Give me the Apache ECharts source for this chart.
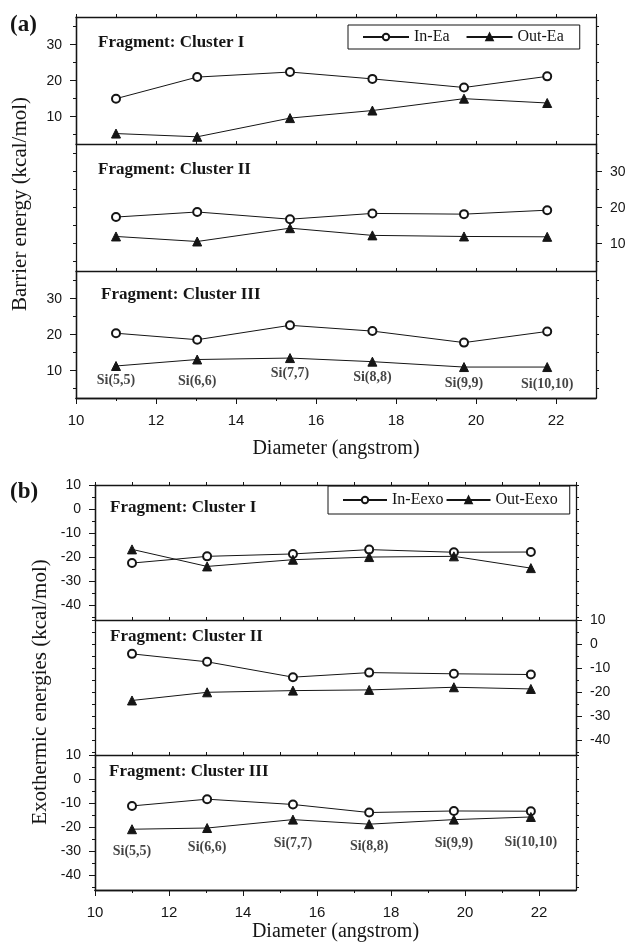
<!DOCTYPE html>
<html>
<head>
<meta charset="utf-8">
<script src="https://cdn.jsdelivr.net/npm/echarts@6/dist/echarts.min.js"></script>
<style>
  html, body { margin: 0; background: #fff; }
  #chart { width: 629px; height: 950px; }
</style>
</head>
<body>
<div id="chart"></div>
<script>
// nanotube diameters (angstrom) shared by every panel
const diameters = [11.0, 13.03, 15.35, 17.41, 19.7, 21.78]
const siNames = ['Si(5,5)', 'Si(6,6)', 'Si(7,7)', 'Si(8,8)', 'Si(9,9)', 'Si(10,10)']

// (a) barrier energies, kcal/mol
const inEa1 = [15.0, 21.0, 22.4, 20.5, 18.1, 21.2]
const outEa1 = [5.3, 4.4, 9.6, 11.7, 15.0, 13.8]
const inEa2 = [17.4, 18.8, 16.8, 18.4, 18.2, 19.3]
const outEa2 = [12.0, 10.6, 14.3, 12.3, 12.0, 11.9]
const inEa3 = [20.4, 18.6, 22.6, 21.0, 17.8, 20.9]
const outEa3 = [11.3, 13.1, 13.5, 12.5, 11.0, 11.0]
const siLabelA = [7.3, 7.1, 9.2, 8.2, 6.5, 6.2]

// (b) exothermic energies, kcal/mol
const inEexo1 = [-22.3, -19.5, -18.5, -16.7, -17.8, -17.7]
const outEexo1 = [-16.6, -23.7, -20.9, -19.8, -19.5, -24.4]
const inEexo2 = [-3.9, -7.2, -13.6, -11.7, -12.2, -12.5]
const outEexo2 = [-23.3, -19.9, -19.2, -18.9, -17.8, -18.5]
const inEexo3 = [-11.0, -8.2, -10.4, -13.75, -13.1, -13.2]
const outEexo3 = [-20.7, -20.2, -16.7, -18.6, -16.7, -15.6]
const siLabelB = [-29.8, -28.1, -26.4, -27.8, -26.4, -26.0]

// ticks
const xMajor = [10, 12, 14, 16, 18, 20, 22]
const xMinor = [11, 13, 15, 17, 19, 21]
const xTop = [10, 11, 12, 13, 14, 15, 16, 17, 18, 19, 20, 21, 22, 23]
const aMajor = [10, 20, 30]
const aMinor = [5, 15, 25, 35]
const bMajor = [-40, -30, -20, -10, 0, 10]
const bMinor = [-45, -35, -25, -15, -5, 5]

const serif = '"Liberation Serif", "Times New Roman", serif'
const sans = '"Liberation Sans", Arial, sans-serif'
const ink = '#151515'

const figA = {
  left: 76, width: 520, tops: [17, 144, 271], height: 127,
  range: [2.4, 37.7], major: aMajor, minor: aMinor,
  sides: ['left', 'right', 'left'], nameGap: 41, labelMargin: 15,
}
const figB = {
  left: 95, width: 481, tops: [485, 620, 755], height: 135,
  range: [-46, 10.2], major: bMajor, minor: bMinor,
  sides: ['left', 'right', 'left'], nameGap: 32, labelMargin: 15,
}

const grid = []
const xAxis = []
const yAxis = []
const series = []

const axisLine = { show: true, onZero: false, lineStyle: { color: ink, width: 1.3 } }
const tickStyle = { color: ink, width: 1 }

function lineSeries(name, xi, yi, ys, symbol) {
  return {
    name,
    type: 'line',
    xAxisIndex: xi,
    yAxisIndex: yi,
    data: diameters.map((x, i) => [x, ys[i]]),
    symbol,
    symbolSize: symbol === 'triangle' ? 9 : 8,
    lineStyle: { color: ink, width: 1 },
    itemStyle: { color: ink, borderColor: ink, borderWidth: 1 },
    silent: true,
  }
}

function addPanel(fig, p, names, inVals, outVals, labelYs) {
  const gi = grid.length
  grid.push({ left: fig.left, top: fig.tops[p], width: fig.width, height: fig.height, outerBoundsMode: 'none' })

  const xi = xAxis.length
  xAxis.push({
    gridIndex: gi, type: 'value', min: 10, max: 23, position: 'top',
    axisLine, axisTick: { customValues: xTop, length: 3, lineStyle: tickStyle },
    axisLabel: { show: false }, splitLine: { show: false },
  })
  if (p === 2) {
    xAxis.push({
      gridIndex: gi, type: 'value', min: 10, max: 23, position: 'bottom',
      axisLine, axisTick: { customValues: xMajor, length: 6, lineStyle: tickStyle },
      axisLabel: { customValues: xMajor, margin: fig.labelMargin, fontFamily: sans, fontSize: 15, color: ink },
      splitLine: { show: false },
      name: 'Diameter (angstrom)', nameLocation: 'middle', nameGap: fig.nameGap,
      nameTextStyle: { fontFamily: serif, fontSize: 20, color: ink },
    })
    xAxis.push({
      gridIndex: gi, type: 'value', min: 10, max: 23, position: 'bottom',
      axisLine, axisTick: { customValues: xMinor, length: 3, lineStyle: tickStyle },
      axisLabel: { show: false }, splitLine: { show: false },
    })
  }

  const side = fig.sides[p]
  const other = side === 'left' ? 'right' : 'left'
  const yi = yAxis.length
  const base = { gridIndex: gi, type: 'value', min: fig.range[0], max: fig.range[1], axisLine, splitLine: { show: false } }
  yAxis.push({
    ...base, position: side,
    axisTick: { customValues: fig.major, length: 6, lineStyle: tickStyle },
    axisLabel: { customValues: fig.major, margin: 14, fontFamily: sans, fontSize: 14, color: ink },
  })
  yAxis.push({
    ...base, position: side,
    axisTick: { customValues: fig.minor, length: 3, lineStyle: tickStyle },
    axisLabel: { show: false },
  })
  yAxis.push({
    ...base, position: other,
    axisTick: { customValues: fig.major.concat(fig.minor), length: 3, lineStyle: tickStyle },
    axisLabel: { show: false },
  })

  series.push(lineSeries(names[0], xi, yi, inVals, 'emptyCircle'))
  series.push(lineSeries(names[1], xi, yi, outVals, 'triangle'))

  if (labelYs) {
    series.push({
      type: 'scatter',
      xAxisIndex: xi,
      yAxisIndex: yi,
      data: diameters.map((x, i) => ({ value: [x, labelYs[i]], name: siNames[i] })),
      symbolSize: 1,
      itemStyle: { color: 'transparent' },
      label: {
        show: true, position: 'inside', formatter: '{b}',
        fontFamily: serif, fontWeight: 'bold', fontSize: 14, color: ink,
      },
      silent: true,
    })
  }
}

const namesA = ['In-Ea', 'Out-Ea']
const namesB = ['In-Eexo', 'Out-Eexo']
addPanel(figA, 0, namesA, inEa1, outEa1)
addPanel(figA, 1, namesA, inEa2, outEa2)
addPanel(figA, 2, namesA, inEa3, outEa3, siLabelA)
addPanel(figB, 0, namesB, inEexo1, outEexo1)
addPanel(figB, 1, namesB, inEexo2, outEexo2)
addPanel(figB, 2, namesB, inEexo3, outEexo3, siLabelB)

function titleText(text, x, y, size) {
  return {
    type: 'text', x, y, silent: true,
    style: { text, font: `bold ${size}px ${serif}`, fill: ink, textVerticalAlign: 'middle' },
  }
}

function axisName(text, x, y) {
  return {
    type: 'text', x, y, rotation: Math.PI / 2, silent: true,
    style: { text, font: `21px ${serif}`, fill: ink, textAlign: 'center', textVerticalAlign: 'middle' },
  }
}

const legendText = { fontFamily: serif, fontSize: 16, color: ink }

const chart = echarts.init(document.getElementById('chart'))
chart.setOption({
  animation: false,
  grid,
  xAxis,
  yAxis,
  series,
  legend: [
    {
      data: namesA, left: 348, top: 25, itemWidth: 46, itemHeight: 8, itemGap: 16,
      padding: [4, 16, 4, 14], borderColor: ink, borderWidth: 1,
      textStyle: legendText, selectedMode: false,
    },
    {
      data: namesB, left: 328, top: 486, itemWidth: 44, itemHeight: 8, itemGap: 2,
      padding: [6, 12, 6, 14], borderColor: ink, borderWidth: 1,
      textStyle: legendText, selectedMode: false,
    },
  ],
  graphic: [
    titleText('(a)', 10, 25, 23),
    titleText('(b)', 10, 492, 23),
    titleText('Fragment: Cluster I', 98, 43, 17),
    titleText('Fragment: Cluster II', 98, 170, 17),
    titleText('Fragment: Cluster III', 101, 295, 17),
    titleText('Fragment: Cluster I', 110, 508, 17),
    titleText('Fragment: Cluster II', 110, 637, 17),
    titleText('Fragment: Cluster III', 109, 772, 17),
    axisName('Barrier energy (kcal/mol)', 20, 204),
    axisName('Exothermic energies (kcal/mol)', 40, 692),
  ],
})
</script>
</body>
</html>
